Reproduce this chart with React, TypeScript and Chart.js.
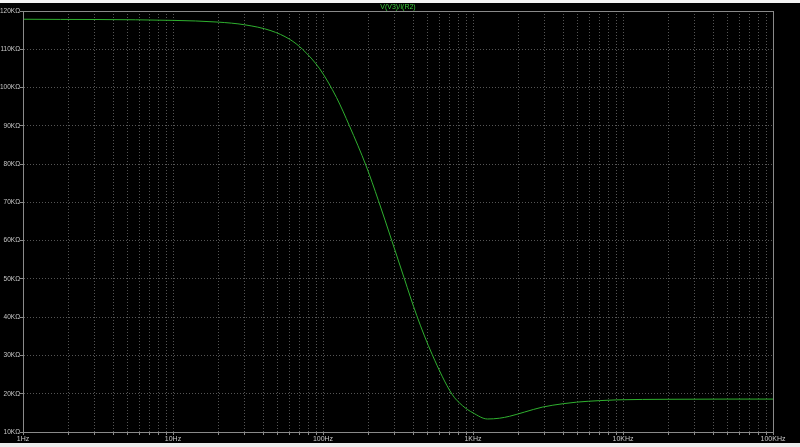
import { useEffect, useRef } from 'react'
import { Chart, registerables } from 'chart.js'

Chart.register(...registerables)

// frequency sweep (Hz) and impedance V(V3)/I(R2) (kOhm)
const freqHz = [1, 10, 20, 30, 45, 60, 73, 95, 123, 150, 194, 234, 287, 347, 421, 535, 724, 850, 1000, 1250, 1500, 1750, 2200, 2900, 4000, 4900, 7000, 9100, 20000, 50000, 100000]
const zKOhm = [117.85, 117.55, 117.1, 116.4, 114.85, 112.6, 110.0, 104.9, 97.4, 90.0, 79.5, 70.5, 60.1, 50.3, 40.5, 30.2, 19.9, 16.9, 15.0, 13.4, 13.6, 14.1, 15.2, 16.5, 17.4, 17.8, 18.2, 18.4, 18.55, 18.6, 18.6]

const traceName = 'V(V3)/I(R2)'
const decadeLabels = ['1Hz', '10Hz', '100Hz', '1KHz', '10KHz', '100KHz']
const decades = [1, 10, 100, 1000, 10000, 100000]
const yTickValues = [10, 20, 30, 40, 50, 60, 70, 80, 90, 100, 110, 120]

const GRID = '#555555'
const FRAME = '#8a8a8a'
const LABEL = '#c8c8c8'
const TRACE = '#2fb02f'
const FONT = '"Liberation Sans", Arial, sans-serif'

// every 1..9 step inside each decade, like LTspice's log grid
const xTickValues: number[] = []
decades.forEach((d, i) => {
  if (i === decades.length - 1) { xTickValues.push(d); return }
  for (let s = 1; s < 10; s++) xTickValues.push(d * s)
})

const framePlugin = {
  id: 'frame',
  afterDraw(chart: any) {
    const { ctx, chartArea } = chart
    ctx.save()
    ctx.strokeStyle = FRAME
    ctx.lineWidth = 1
    ctx.strokeRect(chartArea.left + 0.5, chartArea.top + 0.5, chartArea.right - chartArea.left, chartArea.bottom - chartArea.top)
    // trace name above the plot
    ctx.fillStyle = '#3ccc3c'
    ctx.font = '7px ' + FONT
    ctx.textAlign = 'center'
    ctx.textBaseline = 'middle'
    ctx.fillText(traceName, (chartArea.left + chartArea.right) / 2, 4)
    ctx.restore()
  },
}

export default function App() {
  const chartRef = useRef<HTMLCanvasElement>(null)
  const chartInstance = useRef<Chart | null>(null)

  useEffect(() => {
    if (!chartRef.current) return
    if (chartInstance.current) chartInstance.current.destroy()

    chartInstance.current = new Chart(chartRef.current, {
      type: 'line',
      data: {
        datasets: [{
          label: traceName,
          data: freqHz.map((f, i) => ({ x: f, y: zKOhm[i] })),
          borderColor: TRACE,
          borderWidth: 1,
          pointRadius: 0,
          cubicInterpolationMode: 'monotone',
          fill: false,
        }],
      },
      options: {
        responsive: false,
        animation: false,
        layout: { padding: { top: 8, right: 27, left: 0, bottom: 0 } },
        plugins: {
          legend: { display: false },
          tooltip: { enabled: false },
          title: { display: false },
        },
        scales: {
          x: {
            type: 'logarithmic',
            min: 1,
            max: 100000,
            afterBuildTicks: (scale: any) => {
              scale.ticks = xTickValues.map(v => ({ value: v }))
            },
            afterFit: (scale: any) => { scale.height = 11 },
            grid: { color: GRID, lineWidth: 1, tickLength: 3, tickColor: FRAME },
            border: { color: FRAME, dash: [1, 2] },
            ticks: {
              autoSkip: false,
              maxRotation: 0,
              padding: 0,
              color: LABEL,
              font: { family: FONT, size: 7 },
              callback: (v: any) => {
                const k = decades.indexOf(Number(v))
                return k >= 0 ? decadeLabels[k] : ''
              },
            },
          },
          y: {
            min: 10,
            max: 120,
            afterBuildTicks: (scale: any) => {
              scale.ticks = yTickValues.map(v => ({ value: v }))
            },
            afterFit: (scale: any) => { scale.width = 23 },
            grid: { color: GRID, lineWidth: 1, tickLength: 3, tickColor: FRAME },
            border: { color: FRAME, dash: [1, 2] },
            ticks: {
              padding: 0,
              color: LABEL,
              font: { family: FONT, size: 6.5 },
              callback: (v: any) => v + 'KΩ',
            },
          },
        },
      },
      plugins: [framePlugin],
    } as any)

    return () => {
      if (chartInstance.current) {
        chartInstance.current.destroy()
        chartInstance.current = null
      }
    }
  }, [])

  return (
    <div style={{ position: 'fixed', left: 0, top: 0, width: 800, height: 447, background: '#000', overflow: 'hidden' }}>
      <div style={{ position: 'absolute', left: 0, top: 0, width: 800, height: 3, background: '#f3f3f3' }} />
      <canvas ref={chartRef} width={800} height={440} style={{ position: 'absolute', left: 0, top: 3, width: 800, height: 440 }} />
      <div style={{ position: 'absolute', left: 0, top: 443, width: 800, height: 4, background: '#ececec' }} />
    </div>
  )
}
